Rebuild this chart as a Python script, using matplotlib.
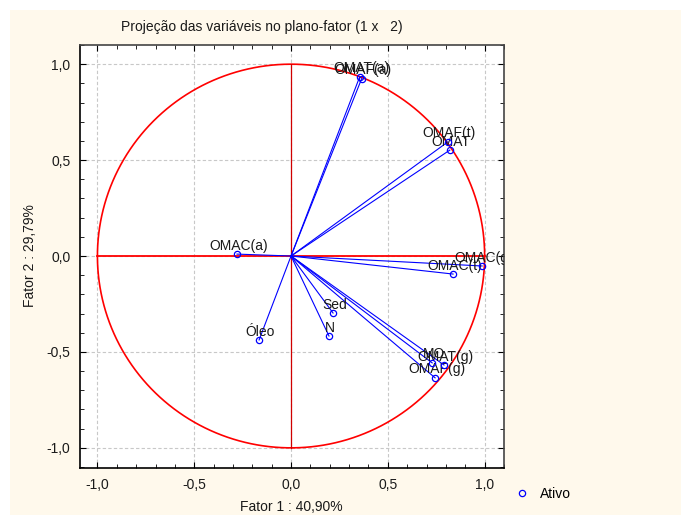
import numpy as np
import matplotlib
matplotlib.use('Agg')
import matplotlib.pyplot as plt
from matplotlib.patches import Rectangle
from matplotlib.ticker import MultipleLocator, FuncFormatter

plt.rcParams['font.family'] = ['Liberation Sans', 'DejaVu Sans']

# variáveis projetadas no plano-fator (1 x 2)
nomes = ['OMAT(a)', 'OMAF(a)', 'OMAF(t)', 'OMAT', 'OMAC(g)', 'OMAC(t)',
         'MO', 'OMAT(g)', 'OMAF(g)', 'Sed', 'N', 'Óleo', 'OMAC(a)']
fator1 = [0.355, 0.365, 0.81, 0.82, 0.987, 0.837,
          0.729, 0.79, 0.744, 0.217, 0.196, -0.165, -0.279]
fator2 = [0.935, 0.925, 0.595, 0.552, -0.052, -0.094,
          -0.557, -0.568, -0.635, -0.297, -0.417, -0.4375, 0.010]

creme = '#fff9ec'
fs = 10
fig = plt.figure(figsize=(6.81, 5.15), dpi=100)
fig.patch.set_facecolor('white')
fundo = Rectangle((10 / 681, 0), 1, 1 - 10 / 515, transform=fig.transFigure,
                  facecolor=creme, edgecolor='none', zorder=-10)
fig.patches.append(fundo)

ax = fig.add_axes([80 / 681, 47 / 515, 424 / 681, 423 / 515])
ax.set_facecolor('white')
ax.set_xlim(-1.09, 1.1)
ax.set_ylim(-1.105, 1.1)

# grade tracejada
ax.grid(True, which='major', linestyle=(0, (3, 2)), color='#c8c8c8', linewidth=0.8)
ax.set_axisbelow(True)

# círculo unitário e eixos em vermelho
t = np.linspace(0, 2 * np.pi, 400)
ax.plot(np.cos(t), np.sin(t), color='red', linewidth=1.2, zorder=2)
ax.plot([-1, 1], [0, 0], color='red', linewidth=1.3, zorder=2)
ax.plot([0, 0], [-1, 1], color='#d00000', linewidth=0.9, zorder=2)

for x, y, nome in zip(fator1, fator2, nomes):
    ax.plot([0, x], [0, y], color='blue', linewidth=0.8, zorder=3)
    ax.annotate(nome, (x, y), xytext=(1, 1), textcoords='offset points',
                ha='center', va='bottom', fontsize=fs, color='#1a1a1a',
                annotation_clip=False, clip_on=True, zorder=4)

ax.plot(fator1, fator2, 'o', markerfacecolor='none', markeredgecolor='blue',
        markersize=4.5, markeredgewidth=0.9, zorder=5, label='Ativo')

fmt = FuncFormatter(lambda v, p: f'{v:.1f}'.replace('.', ','))
for eixo in (ax.xaxis, ax.yaxis):
    eixo.set_major_locator(MultipleLocator(0.5))
    eixo.set_minor_locator(MultipleLocator(0.1))
    eixo.set_major_formatter(fmt)
ax.tick_params(which='both', direction='in', top=True, right=True,
               labelsize=fs, labelcolor='#1a1a1a')
ax.tick_params(which='major', length=4, pad=7)
ax.tick_params(which='minor', length=3)
for lado in ax.spines.values():
    lado.set_linewidth(1.2)
ax.spines['top'].set_color('#444444')
ax.spines['right'].set_color('#444444')

fig.text(262 / 681, 1 - 27 / 515, 'Projeção das variáveis no plano-fator (1 x   2)',
         ha='center', va='center', fontsize=fs, color='#1a1a1a')
fig.text(291 / 681, 1 - 507 / 515, 'Fator 1 : 40,90%',
         ha='center', va='center', fontsize=fs, color='#1a1a1a')
fig.text(30 / 681, 1 - 256 / 515, 'Fator 2 : 29,79%', rotation=90,
         ha='center', va='center', fontsize=fs, color='#1a1a1a')

fig.legend(loc='center left', bbox_to_anchor=(496 / 681, 1 - 494 / 515),
           frameon=False, fontsize=fs, handletextpad=0.3, markerscale=1.0)

fig.savefig('out.png', dpi=100, facecolor=fig.get_facecolor())
